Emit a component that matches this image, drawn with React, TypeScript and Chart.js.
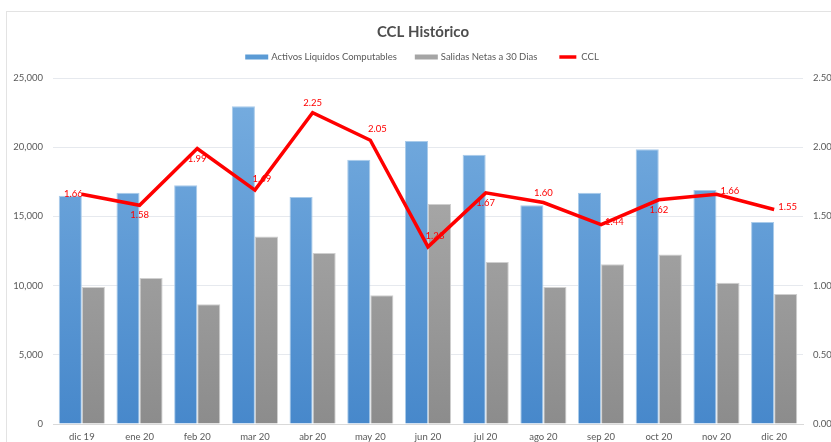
import { useEffect, useRef } from 'react';
import { Chart, registerables } from 'chart.js';

Chart.register(...registerables);

const months = ['dic 19', 'ene 20', 'feb 20', 'mar 20', 'abr 20', 'may 20', 'jun 20', 'jul 20', 'ago 20', 'sep 20', 'oct 20', 'nov 20', 'dic 20'];
const activos = [16500, 16700, 17250, 22950, 16400, 19100, 20450, 19450, 15800, 16700, 19850, 16900, 14600];
const salidas = [9900, 10550, 8650, 13550, 12350, 9300, 15900, 11700, 9900, 11550, 12250, 10200, 9400];
const ccl = [1.66, 1.58, 1.99, 1.69, 2.25, 2.05, 1.28, 1.67, 1.6, 1.44, 1.62, 1.66, 1.55];
const cclLabelPos = ['left', 'below', 'below', 'aboveRight', 'above', 'aboveRight', 'aboveRight', 'below', 'above', 'right', 'below', 'right', 'right'];

const TITLE = 'CCL Histórico';
const SERIES_NAMES = ['Activos Liquidos Computables', 'Salidas Netas a 30 Dias', 'CCL'];

const FONT = 'Lato, "Open Sans", sans-serif';
const TEXT = '#595959';

const framePlugin = {
  id: 'frame',
  beforeDraw(chart: any) {
    const ctx = chart.ctx;
    ctx.save();
    ctx.fillStyle = '#ffffff';
    ctx.fillRect(0, 0, chart.width, chart.height);
    ctx.strokeStyle = '#E3E3E3';
    ctx.lineWidth = 1;
    ctx.strokeRect(6.5, 11.5, chart.width + 20, chart.height + 20);
    // title
    ctx.fillStyle = '#4D4D4D';
    ctx.font = 'bold 15px ' + FONT;
    ctx.textAlign = 'center';
    ctx.textBaseline = 'middle';
    ctx.fillText(TITLE, 423, 32);
    // legend
    ctx.font = '9.5px ' + FONT;
    ctx.textAlign = 'left';
    const boxW = 23;
    const gap = 3;
    const itemGap = 18;
    const widths = SERIES_NAMES.map((n) => ctx.measureText(n).width);
    const total = widths.reduce((a, b) => a + b, 0) + SERIES_NAMES.length * (boxW + gap) + itemGap * (SERIES_NAMES.length - 1);
    let x = 422 - total / 2;
    const y = 57;
    SERIES_NAMES.forEach((n, i) => {
      if (i === 0) {
        ctx.fillStyle = '#5B9BD5';
        ctx.fillRect(x, y - 2.5, boxW, 5);
      } else if (i === 1) {
        ctx.fillStyle = '#A5A5A5';
        ctx.fillRect(x, y - 2.5, boxW, 5);
      } else {
        ctx.strokeStyle = '#FF0000';
        ctx.lineWidth = 3.5;
        ctx.beginPath();
        ctx.moveTo(x + 4, y);
        ctx.lineTo(x + boxW - 2, y);
        ctx.stroke();
      }
      x += boxW + gap;
      ctx.fillStyle = TEXT;
      ctx.fillText(n, x, y);
      x += widths[i] + itemGap;
    });
    ctx.restore();
  },
};

const offsets: Record<string, [number, number, string]> = {
  above: [0, -10, 'center'],
  below: [0, 10, 'center'],
  left: [1, 0, 'right'],
  right: [4, -3, 'left'],
  aboveRight: [7, -11, 'center'],
};

const labelPlugin = {
  id: 'cclLabels',
  afterDatasetsDraw(chart: any) {
    const meta = chart.getDatasetMeta(0);
    const ctx = chart.ctx;
    ctx.save();
    ctx.font = '9.5px ' + FONT;
    ctx.fillStyle = '#FF0000';
    ctx.textBaseline = 'middle';
    meta.data.forEach((pt: any, i: number) => {
      const [dx, dy, align] = offsets[cclLabelPos[i]] || offsets.above;
      ctx.textAlign = align;
      ctx.fillText(ccl[i].toFixed(2), pt.x + dx, pt.y + dy);
    });
    ctx.restore();
  },
};

function vGrad(chart: any, top: string, bottom: string) {
  const area = chart.chartArea;
  if (!area) return top;
  const g = chart.ctx.createLinearGradient(0, area.top, 0, area.bottom);
  g.addColorStop(0, top);
  g.addColorStop(1, bottom);
  return g;
}

export default function App() {
  const ref = useRef<HTMLCanvasElement>(null);
  useEffect(() => {
    const canvas = ref.current!;
    const chart = new Chart(canvas, {
      type: 'bar',
      data: {
        labels: months,
        datasets: [
          {
            type: 'line',
            label: SERIES_NAMES[2],
            data: ccl,
            yAxisID: 'y1',
            borderColor: '#FF0000',
            borderWidth: 3.5,
            pointRadius: 0,
            tension: 0,
            order: 0,
          } as any,
          {
            label: SERIES_NAMES[0],
            data: activos,
            yAxisID: 'y',
            backgroundColor: (c: any) => vGrad(c.chart, '#78AEE0', '#4788CB'),
            borderColor: '#A9CBEA',
            borderWidth: 1,
            categoryPercentage: 0.8,
            barPercentage: 1,
            order: 1,
          },
          {
            label: SERIES_NAMES[1],
            data: salidas,
            yAxisID: 'y',
            backgroundColor: (c: any) => vGrad(c.chart, '#B4B4B4', '#8C8C8C'),
            borderColor: '#CFCFCF',
            borderWidth: 1,
            categoryPercentage: 0.8,
            barPercentage: 1,
            order: 2,
          },
        ],
      },
      options: {
        responsive: false,
        animation: false,
        layout: { padding: { top: 78, left: 0, right: 0, bottom: 0 } },
        plugins: {
          legend: { display: false },
          title: { display: false },
          tooltip: { enabled: false },
        },
        scales: {
          x: {
            grid: { display: false, drawTicks: false },
            border: { color: '#D9D9D9' },
            ticks: { color: TEXT, font: { family: FONT, size: 9.5 }, padding: 7 },
            afterFit: (s: any) => { s.height = 18; },
          },
          y: {
            position: 'left',
            min: 0,
            max: 25000,
            ticks: {
              stepSize: 5000,
              color: TEXT,
              font: { family: FONT, size: 9.5 },
              padding: 10,
              callback: (v: any) => Number(v).toLocaleString('en-US'),
            },
            grid: { color: '#E6E9EE', drawTicks: false },
            border: { display: false },
            afterFit: (s: any) => { s.width = 53; },
          },
          y1: {
            position: 'right',
            min: 0,
            max: 2.5,
            ticks: {
              stepSize: 0.5,
              color: TEXT,
              font: { family: FONT, size: 9.5 },
              padding: 10,
              callback: (v: any) => Number(v).toFixed(2),
            },
            grid: { display: false, drawTicks: false },
            border: { display: false },
            afterFit: (s: any) => { s.width = 28; },
          },
        },
      },
      plugins: [framePlugin, labelPlugin],
    });
    return () => chart.destroy();
  }, []);
  return (
    <div style={{ position: 'absolute', left: 0, top: 0, width: 831, height: 442 }}>
      <canvas ref={ref} width={831} height={442} style={{ display: 'block' }} />
    </div>
  );
}
